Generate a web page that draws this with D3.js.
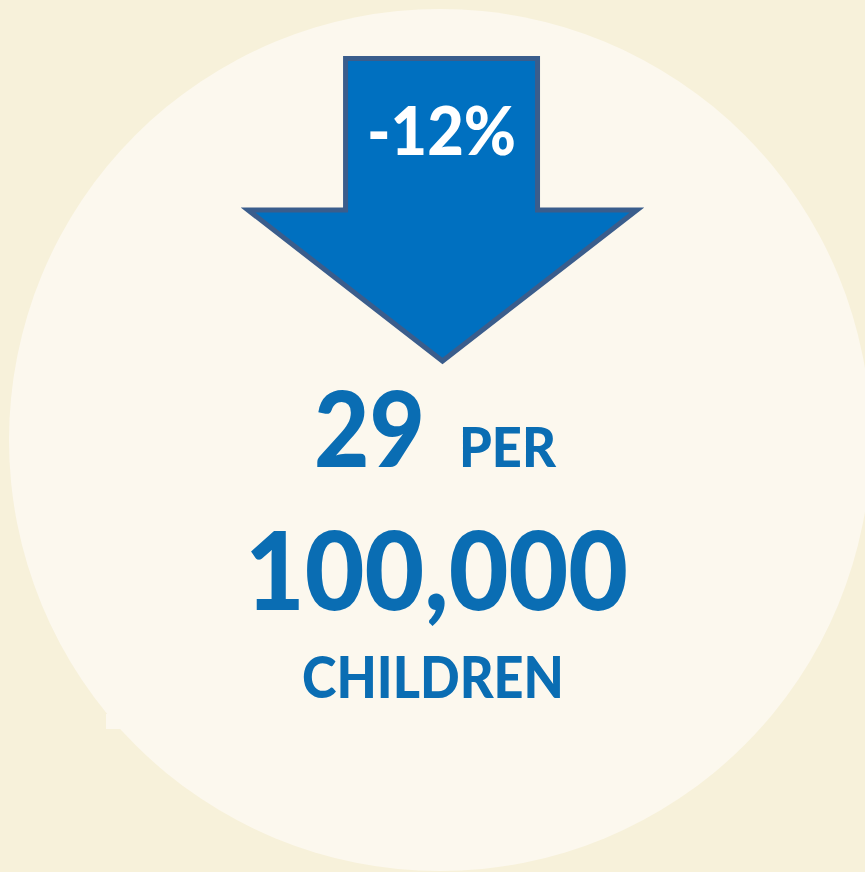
<!DOCTYPE html>
<html>
<head>
<meta charset="utf-8">
<script src="https://cdn.jsdelivr.net/npm/d3@7"></script>
<style>
html,body{margin:0;padding:0;background:#f7f1da;}
svg{display:block;}
</style>
</head>
<body>
<svg id="c" width="865" height="872"></svg>
<script>
// Data
const changeLabels = ["-12%"];
const changeValues = [-12];
const rateValues = [29];
const rateLabels = ["29", "PER", "100,000", "CHILDREN"];
const perPopulation = [100000];

const W = 865, H = 872;
const svg = d3.select("#c");

svg.append("rect").attr("width", W).attr("height", H).attr("fill", "#f7f1da");
svg.append("circle").attr("cx", 440).attr("cy", 440).attr("r", 431).attr("fill", "#fcf8ee");
svg.append("rect").attr("x", 106).attr("y", 714).attr("width", 14).attr("height", 15).attr("fill", "#fcf8ee");

// Arrow geometry via scales (unit box -> pixels)
const ax = d3.scaleLinear().domain([0, 1]).range([248, 637]);
const ay = d3.scaleLinear().domain([0, 1]).range([58.5, 361]);
const arrowPts = [
  [0.2508, 0], [0.7443, 0], [0.7443, 0.5009], [1, 0.5009],
  [0.5, 1], [0, 0.5009], [0.2508, 0.5009]
];
const line = d3.line().x(d => ax(d[0])).y(d => ay(d[1])).curve(d3.curveLinearClosed);
svg.append("path").attr("d", line(arrowPts))
  .attr("fill", "#0070c0").attr("stroke", "#3a5d8c").attr("stroke-width", 5)
  .attr("stroke-linejoin", "miter");

const font = "Lato, 'Open Sans', sans-serif";
function txt(s, x, y, size, len, fill) {
  svg.append("text").attr("x", x).attr("y", y)
    .attr("font-family", font).attr("font-weight", 900)
    .attr("font-size", size).attr("fill", fill)
    .attr("textLength", len).attr("lengthAdjust", "spacingAndGlyphs")
    .text(s);
}
const blue = "#0a6db3";
txt(changeLabels[0], 367, 155, 67, 149, "#ffffff");
txt(String(rateValues[0]), 314, 467, 104, 111, blue);
txt(rateLabels[1], 459, 467, 56, 97, blue);
txt(d3.format(",")(perPopulation[0]), 245, 610, 108, 383, blue);
txt(rateLabels[3], 302, 698, 57, 262, blue);
</script>
</body>
</html>
